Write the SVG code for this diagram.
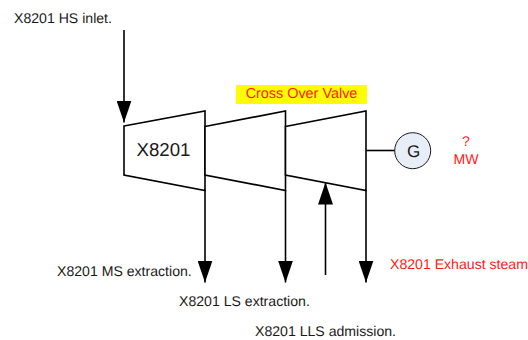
<svg xmlns="http://www.w3.org/2000/svg" width="528" height="340" viewBox="0 0 528 340">
<style>
text{font-family:"Liberation Sans",Arial,sans-serif;font-size:14.1px;fill:#1a1a1a;text-rendering:geometricPrecision}
.red{fill:#ff1a1a}
.mid{text-anchor:middle}
.stage{fill:#fff;stroke:#000;stroke-width:1.6}
.flow{fill:none;stroke:#000;stroke-width:1.6;marker-end:url(#head)}
</style>
<defs>
<marker id="head" markerUnits="userSpaceOnUse" markerWidth="22" markerHeight="15" refX="22" refY="7.5" orient="auto" viewBox="0 0 22 15"><path d="M0 0L22 7.5L0 15Z" fill="#000"/></marker>
</defs>
<rect width="528" height="340" fill="#fff"/>
<g id="valve"><rect x="236" y="85" width="131" height="19" fill="#ff0"/><text class="red mid" x="301.500" y="98" style="font-size:14.4px">Cross Over Valve</text></g>
<g id="stage1"><path class="stage" d="M124 126L205 111V190.500L124 175Z"/><text class="mid" x="163.500" y="156" style="font-size:18.7px">X8201</text></g>
<g id="stage2"><path class="stage" d="M205 126.500L285.500 111V190.500L205 175Z"/></g>
<g id="stage3"><path class="stage" d="M285.500 126.500L366 111V190.500L285.500 175Z"/></g>
<g id="connectors">
<path d="M366 150.500H395" fill="none" stroke="#000" stroke-width="1.6"/>
<path class="flow" d="M124 30V122.500"/>
<path class="flow" d="M205 190V282.500"/>
<path class="flow" d="M285.500 190V282.500"/>
<path class="flow" d="M325.500 275V182.500"/>
<path class="flow" d="M366 190V282.500"/>
</g>
<g id="generator"><circle cx="412.700" cy="150.700" r="18" fill="#e8eef7" stroke="#1a1a1a" stroke-width="1"/><text class="mid" x="413.500" y="156.500" style="font-size:17px">G</text></g>
<g id="labels">
<text x="14" y="22.500">X8201 HS inlet.</text>
<text x="57" y="276">X8201 MS extraction.</text>
<text x="179" y="306">X8201 LS extraction.</text>
<text x="255" y="336">X8201 LLS admission.</text>
<text class="red" x="390" y="269">X8201 Exhaust steam</text>
<text class="red mid" x="466" y="146">?</text>
<text class="red mid" x="466" y="164">MW</text>
</g>
</svg>
